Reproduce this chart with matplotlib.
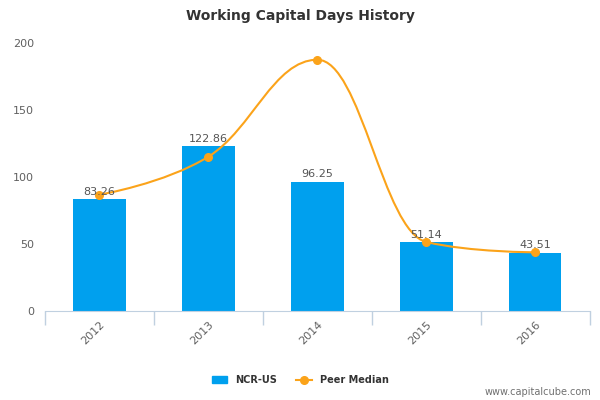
import matplotlib
matplotlib.use("Agg")
import matplotlib.pyplot as plt
from matplotlib.path import Path
from matplotlib.patches import PathPatch
from matplotlib.lines import Line2D
from matplotlib.patches import Patch

years = ["2012", "2013", "2014", "2015", "2016"]
ncr_values = [83.26, 122.86, 96.25, 51.14, 43.51]
peer_median = [86.8, 115.2, 187.5, 51.5, 43.8]

BAR_COLOR = "#00A0EE"
LINE_COLOR = "#FBA31A"


def spline_path(xs, ys, smoothing=1.5):
    # Highcharts-style spline control points
    denom = smoothing + 1
    n = len(xs)
    left = [None] * n
    right = [None] * n
    for i in range(n):
        if i == 0 or i == n - 1:
            left[i] = (xs[i], ys[i])
            right[i] = (xs[i], ys[i])
            continue
        lx, ly = xs[i - 1], ys[i - 1]
        nx, ny = xs[i + 1], ys[i + 1]
        px, py = xs[i], ys[i]
        lcx = (smoothing * px + lx) / denom
        lcy = (smoothing * py + ly) / denom
        rcx = (smoothing * px + nx) / denom
        rcy = (smoothing * py + ny) / denom
        corr = (rcy - lcy) * (rcx - px) / (rcx - lcx) + py - rcy
        lcy += corr
        rcy += corr
        if lcy > ly and lcy > py:
            lcy = max(ly, py)
            rcy = 2 * py - lcy
        elif lcy < ly and lcy < py:
            lcy = min(ly, py)
            rcy = 2 * py - lcy
        if rcy > ny and rcy > py:
            rcy = max(ny, py)
            lcy = 2 * py - rcy
        elif rcy < ny and rcy < py:
            rcy = min(ny, py)
            lcy = 2 * py - rcy
        left[i] = (lcx, lcy)
        right[i] = (rcx, rcy)
    verts = [(xs[0], ys[0])]
    codes = [Path.MOVETO]
    for i in range(1, n):
        verts += [right[i - 1], left[i], (xs[i], ys[i])]
        codes += [Path.CURVE4] * 3
    return Path(verts, codes)


def main():
    fig = plt.figure(figsize=(6, 4), dpi=100)
    ax = fig.add_axes([0.075, 0.2225, 0.908, 0.67])
    x = list(range(len(years)))

    ax.bar(x, ncr_values, width=0.48, color=BAR_COLOR, zorder=2)
    for xi, v in zip(x, ncr_values):
        ax.text(xi, v + 2, f"{v:.2f}", ha="center", va="bottom",
                fontsize=8, color="#555555", zorder=5)

    ax.add_patch(PathPatch(spline_path(x, peer_median), fill=False,
                           edgecolor=LINE_COLOR, lw=1.5, zorder=3))
    ax.plot(x, peer_median, "o", color=LINE_COLOR, ms=5.5, zorder=4)

    ax.set_xlim(-0.5, len(years) - 0.5)
    ax.set_ylim(0, 200)
    ax.set_yticks([0, 50, 100, 150, 200])
    ax.tick_params(axis="y", length=0, labelsize=8, labelcolor="#606060", pad=8)

    ax.set_xticks(x)
    ax.set_xticklabels(years, rotation=45, ha="right", rotation_mode="anchor",
                       fontsize=8, color="#606060")
    ax.tick_params(axis="x", length=0, pad=6)
    ax.set_xticks([i - 0.5 for i in range(len(years) + 1)], minor=True)
    ax.tick_params(axis="x", which="minor", length=10, color="#C0D0E0", width=1)

    for s in ["top", "right", "left"]:
        ax.spines[s].set_visible(False)
    ax.spines["bottom"].set_color("#C0D0E0")

    fig.text(0.5, 0.96, "Working Capital Days History", ha="center", va="center",
             fontsize=10, fontweight="bold", color="#333333")

    handles = [Patch(color=BAR_COLOR),
               Line2D([], [], color=LINE_COLOR, marker="o", ms=5.5, lw=1.5)]
    fig.legend(handles, ["NCR-US", "Peer Median"], loc="center",
               bbox_to_anchor=(0.5, 0.05), ncol=2, frameon=False,
               prop={"size": 7, "weight": "bold"}, labelcolor="#333333",
               handlelength=1.6, columnspacing=2)

    fig.text(0.985, 0.02, "www.capitalcube.com", ha="right", va="center",
             fontsize=7, color="#707070")

    fig.savefig("out.png", dpi=100)


if __name__ == "__main__":
    main()
